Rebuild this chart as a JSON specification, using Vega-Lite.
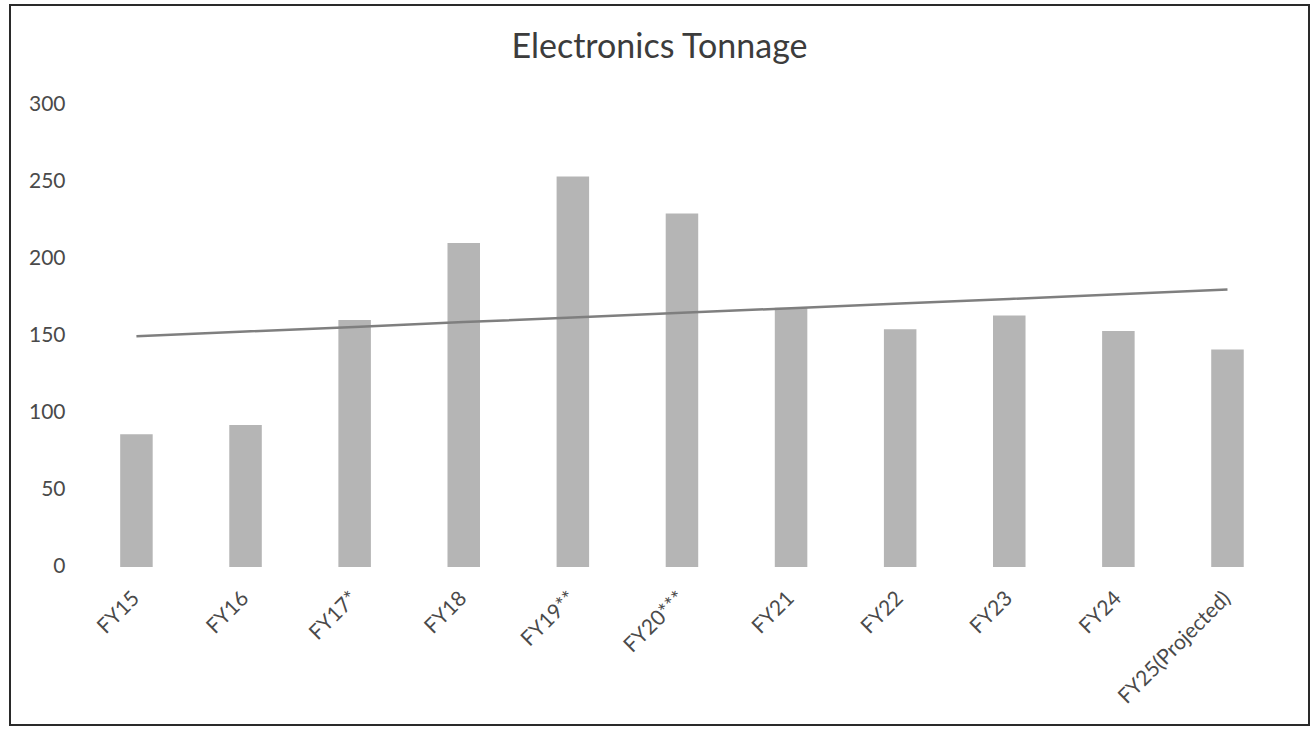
{
  "$schema": "https://vega.github.io/schema/vega-lite/v6.json",
  "autosize": {"type": "none"},
  "width": 1299,
  "height": 720,
  "padding": {"left": 10, "top": 5, "right": 5, "bottom": 4},
  "background": "white",
  "config": {
    "view": {"stroke": "#2a2a2a", "strokeWidth": 2},
    "font": "Lato"
  },
  "title": {
    "text": "Electronics Tonnage",
    "anchor": "middle",
    "orient": "top",
    "frame": "group",
    "offset": -87,
    "baseline": "alphabetic",
    "font": "Lato",
    "fontSize": 34,
    "fontWeight": "normal",
    "color": "#3c3c3c"
  },
  "data": {
    "values": [
      {"year": "FY15", "tons": 86, "trend": 149.6},
      {"year": "FY16", "tons": 92, "trend": 152.6},
      {"year": "FY17*", "tons": 160, "trend": 155.6},
      {"year": "FY18", "tons": 210, "trend": 158.7},
      {"year": "FY19**", "tons": 253, "trend": 161.7},
      {"year": "FY20***", "tons": 229, "trend": 164.7},
      {"year": "FY21", "tons": 168, "trend": 167.7},
      {"year": "FY22", "tons": 154, "trend": 170.7},
      {"year": "FY23", "tons": 163, "trend": 173.7},
      {"year": "FY24", "tons": 153, "trend": 176.8},
      {"year": "FY25(Projected)", "tons": 141, "trend": 179.8}
    ]
  },
  "encoding": {
    "x": {
      "field": "year",
      "type": "nominal",
      "sort": null,
      "scale": {"paddingInner": 0.702, "paddingOuter": 0.804, "align": 0.628},
      "axis": {
        "title": null,
        "orient": "bottom",
        "offset": -158,
        "domain": false,
        "ticks": false,
        "labelAngle": -45,
        "labelAlign": "right",
        "labelBaseline": "middle",
        "labelPadding": 28,
        "labelOffset": 0,
        "labelFontSize": 21,
        "labelColor": "#4a4a4a",
        "labelFont": "Lato"
      }
    }
  },
  "layer": [
    {
      "mark": {"type": "bar", "color": "#b5b5b5"},
      "encoding": {
        "y": {
          "field": "tons",
          "type": "quantitative",
          "scale": {"domain": [-102.4, 364.2], "nice": false, "zero": false},
          "axis": {
            "title": null,
            "values": [0, 50, 100, 150, 200, 250, 300],
            "grid": false,
            "domain": false,
            "ticks": false,
            "offset": -55,
            "labelPadding": 0,
            "labelFontSize": 21,
            "labelColor": "#4a4a4a",
            "labelFont": "Lato"
          }
        }
      }
    },
    {
      "mark": {"type": "line", "color": "#7f7f7f", "strokeWidth": 2.5},
      "encoding": {
        "y": {"field": "trend", "type": "quantitative"}
      }
    }
  ]
}
